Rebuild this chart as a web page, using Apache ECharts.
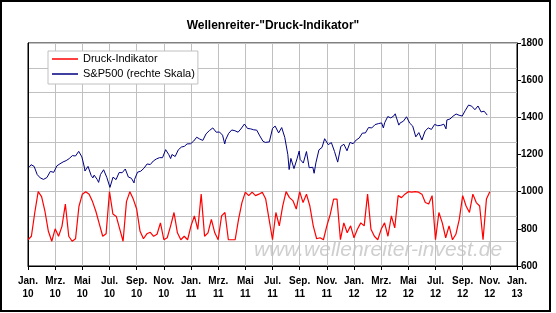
<!DOCTYPE html>
<html>
<head>
<meta charset="utf-8">
<script src="https://cdn.jsdelivr.net/npm/echarts@6/dist/echarts.min.js"></script>
<style>
  html, body { margin: 0; padding: 0; background: #fff; }
  #chart { width: 556px; height: 313px; }
</style>
</head>
<body>
<div id="chart"></div>
<script>
// x-Achse: Monate ab Jan. 2010
var monthLabels = ['Jan.', 'Mrz.', 'Mai', 'Jul.', 'Sep.', 'Nov.'];
var yearLabels = ['10', '11', '12', '13'];

// Druck-Indikator (0 = unten, 100 = oben), Schritt 1/4 Monat ab Jan. 2010
var redStep = 0.25;
var druckValues = [
  3, 10, 58, 100, 90, 60, 20, 0, 25, 10, 30, 75, 10, 0, 5, 70, 95, 100, 95, 80,
  60, 35, 10, 15, 100, 55, 50, 25, 0, 80, 100, 85, 65, 20, 5, 15, 18,
  10, 14, 37, 3, 7, 31, 58, 17, 3, 10, 3, 31, 51, 24, 95, 10, 17, 44, 17, 3,
  51, 58, 3, 3, 3, 44, 78, 99, 92, 99, 92, 95, 99, 85, 44, 3,
  58, 31, 71, 100, 88, 82, 65, 100, 78, 95, 71, 31, 5, 7, 3, 31, 54, 85, 85, 3,
  37, 17, 31, 7, 24, 37, 31, 95, 24, 10, 3, 24, 37, 10, 51, 27,
  92, 88, 95, 100, 99, 100, 99, 95, 78, 75, 92, 3, 58, 37, 7, 31, 3, 14, 44, 92,
  71, 58, 95, 78, 71, 3, 85, 100
];

// S&P500
var spxDates = [
  '2010-01-04','2010-01-08','2010-01-15','2010-01-22','2010-01-29','2010-02-05','2010-02-08','2010-02-12',
  '2010-02-19','2010-02-26','2010-03-05','2010-03-12','2010-03-19','2010-03-26','2010-04-02','2010-04-09',
  '2010-04-16','2010-04-23','2010-04-30','2010-05-06','2010-05-07','2010-05-14','2010-05-21','2010-05-25',
  '2010-05-28','2010-06-04','2010-06-07','2010-06-11','2010-06-18','2010-06-25','2010-07-02','2010-07-09',
  '2010-07-16','2010-07-23','2010-07-30','2010-08-06','2010-08-13','2010-08-20','2010-08-26','2010-08-27',
  '2010-09-03','2010-09-10','2010-09-17','2010-09-24','2010-10-01','2010-10-08','2010-10-15','2010-10-22',
  '2010-10-29','2010-11-05','2010-11-12','2010-11-16','2010-11-19','2010-11-26','2010-11-30','2010-12-03',
  '2010-12-10','2010-12-17','2010-12-23','2010-12-31',
  '2011-01-07','2011-01-14','2011-01-21','2011-01-28','2011-02-04','2011-02-11','2011-02-18','2011-02-25',
  '2011-03-04','2011-03-11','2011-03-16','2011-03-18','2011-03-25','2011-04-01','2011-04-08','2011-04-15',
  '2011-04-21','2011-04-29','2011-05-06','2011-05-13','2011-05-20','2011-05-27','2011-06-03','2011-06-10',
  '2011-06-15','2011-06-17','2011-06-24','2011-07-01','2011-07-07','2011-07-15','2011-07-22','2011-07-29',
  '2011-08-05','2011-08-08','2011-08-12','2011-08-19','2011-08-26','2011-08-31','2011-09-02','2011-09-09',
  '2011-09-16','2011-09-22','2011-09-23','2011-09-30','2011-10-03','2011-10-07','2011-10-14','2011-10-21',
  '2011-10-27','2011-11-04','2011-11-11','2011-11-18','2011-11-25','2011-12-02','2011-12-09','2011-12-16',
  '2011-12-23','2011-12-30',
  '2012-01-06','2012-01-13','2012-01-20','2012-01-27','2012-02-03','2012-02-10','2012-02-17','2012-02-24',
  '2012-03-02','2012-03-06','2012-03-09','2012-03-16','2012-03-23','2012-03-30','2012-04-02','2012-04-10',
  '2012-04-13','2012-04-20','2012-04-27','2012-05-04','2012-05-11','2012-05-18','2012-05-25','2012-06-01',
  '2012-06-08','2012-06-15','2012-06-22','2012-06-29','2012-07-06','2012-07-13','2012-07-20','2012-07-25',
  '2012-07-27','2012-08-03','2012-08-10','2012-08-17','2012-08-24','2012-08-31','2012-09-07','2012-09-14',
  '2012-09-21','2012-09-28','2012-10-05','2012-10-12','2012-10-19','2012-10-26'
];
var spxValues = [
  1133, 1145, 1136, 1092, 1074, 1066, 1057, 1076,
  1109, 1104, 1139, 1150, 1160, 1167, 1178, 1194,
  1192, 1217, 1187, 1128, 1111, 1136, 1088, 1074,
  1089, 1065, 1050, 1092, 1118, 1077, 1023, 1078,
  1065, 1103, 1102, 1122, 1079, 1072, 1047, 1065,
  1105, 1110, 1126, 1149, 1146, 1165, 1176, 1183,
  1183, 1226, 1199, 1178, 1200, 1189, 1181, 1225,
  1240, 1244, 1257, 1258,
  1272, 1293, 1283, 1276, 1311, 1329, 1343, 1320,
  1321, 1304, 1257, 1279, 1314, 1332, 1328, 1320,
  1337, 1364, 1340, 1338, 1333, 1331, 1300, 1271,
  1265, 1272, 1268, 1340, 1353, 1316, 1345, 1292,
  1199, 1119, 1179, 1124, 1177, 1219, 1174, 1154,
  1216, 1129, 1136, 1131, 1099, 1155, 1225, 1238,
  1285, 1253, 1264, 1216, 1159, 1244, 1255, 1220,
  1265, 1258,
  1278, 1289, 1315, 1316, 1345, 1343, 1361, 1366,
  1370, 1343, 1371, 1404, 1397, 1408, 1419, 1358,
  1370, 1379, 1403, 1369, 1353, 1295, 1318, 1278,
  1326, 1343, 1335, 1362, 1355, 1357, 1363, 1338,
  1386, 1391, 1406, 1418, 1411, 1407, 1438, 1466,
  1460, 1441, 1461, 1429, 1433, 1412
];

// Datum -> Monatsindex ab Jan. 2010
function monthIndex(s) {
  var p = s.split('-');
  var y = +p[0], mo = +p[1], d = +p[2];
  var days = new Date(y, mo, 0).getDate();
  return (y - 2010) * 12 + (mo - 1) + (d - 1) / days;
}

var druckData = druckValues.map(function (v, i) { return [i * redStep, v]; });
var spxData = spxValues.map(function (v, i) { return [monthIndex(spxDates[i]), v]; });

var chart = echarts.init(document.getElementById('chart'), null, { renderer: 'canvas' });

var option = {
  animation: false,
  backgroundColor: '#fff',
  textStyle: { fontFamily: 'Liberation Sans, Arial, sans-serif' },
  title: {
    text: 'Wellenreiter-"Druck-Indikator"',
    left: 268,
    top: 15,
    textAlign: 'center',
    textStyle: { fontSize: 12, fontWeight: 'bold', color: '#000', fontFamily: 'Liberation Sans, Arial, sans-serif' }
  },
  legend: {
    orient: 'vertical',
    left: 48,
    top: 51,
    padding: [1, 3, 3, 4],
    itemGap: 1,
    itemWidth: 26,
    itemHeight: 1.5,
    icon: 'rect',
    backgroundColor: '#fff',
    borderColor: '#c0c0c0',
    borderWidth: 1,
    borderRadius: 0,
    textStyle: { fontSize: 11, color: '#000', lineHeight: 14, padding: [0, 0, 0, 0] },
    data: ['Druck-Indikator', 'S&P500 (rechte Skala)']
  },
  graphic: [
    {
      type: 'rect',
      z: 100,
      shape: { x: 1, y: 1, width: 549, height: 310 },
      style: { fill: 'none', stroke: '#000', lineWidth: 2 }
    },
    {
      type: 'text',
      z: 0,
      x: 378,
      y: 250,
      style: {
        text: 'www.wellenreiter-invest.de',
        font: 'italic 21px Liberation Sans, Arial, sans-serif',
        fill: '#cfcfcf',
        align: 'center',
        verticalAlign: 'middle'
      }
    }
  ],
  grid: {
    left: 28,
    right: 39,
    top: 43,
    bottom: 47,
    show: true,
    borderColor: '#000',
    borderWidth: 1,
    backgroundColor: 'transparent'
  },
  xAxis: {
    type: 'value',
    min: 0,
    max: 36,
    interval: 2,
    axisLine: { onZero: false, lineStyle: { color: '#000', width: 1 } },
    axisTick: { show: true, inside: false, length: 4, lineStyle: { color: '#000' } },
    splitLine: { show: true, lineStyle: { color: '#c0c0c0', width: 1 } },
    axisLabel: {
      margin: 9,
      fontSize: 10,
      fontWeight: 'bold',
      color: '#000',
      lineHeight: 13,
      formatter: function (v) {
        var m = Math.round(v);
        return monthLabels[(m % 12) / 2] + '\n' + yearLabels[Math.floor(m / 12)];
      }
    }
  },
  yAxis: [
    {
      type: 'value',
      min: -50,
      max: 400,
      interval: 50,
      position: 'left',
      axisLine: { show: true, onZero: false, lineStyle: { color: '#000' } },
      axisTick: { show: false },
      axisLabel: { show: false },
      splitLine: { show: true, lineStyle: { color: '#c0c0c0', width: 1 } }
    },
    {
      type: 'value',
      min: 600,
      max: 1800,
      interval: 200,
      position: 'right',
      axisLine: { show: true, onZero: false, lineStyle: { color: '#000' } },
      axisTick: { show: true, inside: false, length: 4, lineStyle: { color: '#000' } },
      splitLine: { show: false },
      axisLabel: {
        margin: 4, fontSize: 10, fontWeight: 'bold', color: '#000',
        formatter: function (v) { return String(v); }
      }
    }
  ],
  series: [
    {
      name: 'Druck-Indikator',
      type: 'line',
      yAxisIndex: 0,
      showSymbol: false,
      symbol: 'none',
      color: '#ff0000',
      lineStyle: { color: '#ff0000', width: 1.2 },
      data: druckData
    },
    {
      name: 'S&P500 (rechte Skala)',
      type: 'line',
      yAxisIndex: 1,
      showSymbol: false,
      symbol: 'none',
      color: '#000080',
      lineStyle: { color: '#000080', width: 1 },
      data: spxData
    }
  ]
};

chart.setOption(option);
</script>
</body>
</html>
